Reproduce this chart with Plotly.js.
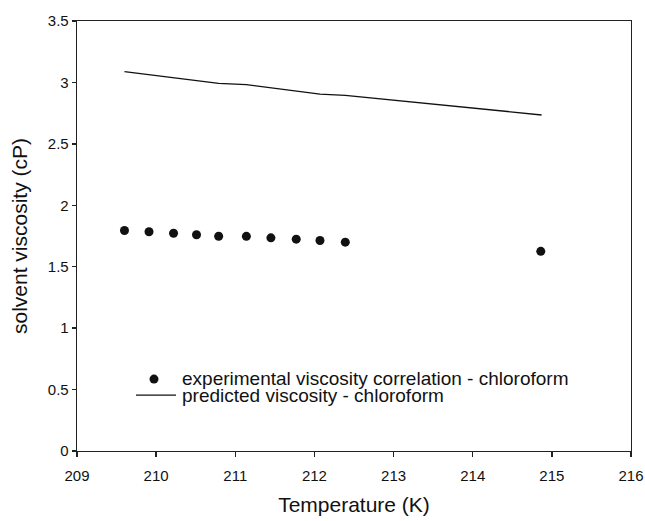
<!DOCTYPE html>
<html>
<head>
<meta charset="utf-8">
<script src="https://cdn.plot.ly/plotly-3.0.1.min.js"></script>
<style>html,body{margin:0;padding:0;background:#fff;}#chart{width:645px;height:521px;}</style>
</head>
<body>
<div id="chart"></div>
<script>
// Experimental viscosity correlation - chloroform
const expTemp = [209.60, 209.91, 210.22, 210.51, 210.79, 211.14, 211.45, 211.77, 212.07, 212.39, 214.86];
const expVisc = [1.795, 1.785, 1.772, 1.760, 1.748, 1.747, 1.735, 1.724, 1.713, 1.700, 1.625];
// Predicted viscosity - chloroform
const predTemp = [209.60, 209.91, 210.22, 210.51, 210.79, 211.14, 211.45, 211.77, 212.07, 212.39, 214.87];
const predVisc = [3.088, 3.064, 3.038, 3.012, 2.992, 2.982, 2.955, 2.928, 2.905, 2.895, 2.735];
const xTicks = [209, 210, 211, 212, 213, 214, 215, 216];
const yTicks = [0, 0.5, 1, 1.5, 2, 2.5, 3, 3.5];
const legendLabels = ["experimental viscosity correlation - chloroform", "predicted viscosity - chloroform"];

const font = "Liberation Sans, Arial, sans-serif";
const traces = [
  {x: predTemp, y: predVisc, mode: "lines", type: "scatter", name: legendLabels[1],
   line: {color: "#111", width: 1.4}, showlegend: false},
  {x: expTemp, y: expVisc, mode: "markers", type: "scatter", name: legendLabels[0],
   marker: {color: "#111", size: 9}, showlegend: false}
];
const W = 645, H = 521, L = 77, R = 14, T = 20.5, B = 70;
const pw = W - L - R, ph = H - T - B;
function px(x){return (x - L)/pw;}
function py(y){return (H - B - y)/ph;}
const layout = {
  width: W, height: H,
  margin: {l: L, r: R, t: T, b: B},
  paper_bgcolor: "#fff", plot_bgcolor: "#fff",
  font: {family: font, color: "#111"},
  xaxis: {range: [209, 216], tickvals: xTicks, ticktext: xTicks.map(String),
    showgrid: false, zeroline: false, showline: true, mirror: true, linecolor: "#222", linewidth: 1.3,
    ticks: "outside", ticklen: 5, tickwidth: 1.3, tickcolor: "#222",
    tickfont: {size: 15, family: font, color: "#111"}, ticklabelstandoff: 6,
    title: {text: "Temperature (K)", font: {size: 21, family: font, color: "#111"}, standoff: 14}},
  yaxis: {range: [0, 3.5], tickvals: yTicks, ticktext: yTicks.map(String),
    showgrid: false, zeroline: false, showline: true, mirror: true, linecolor: "#222", linewidth: 1.3,
    ticks: "outside", ticklen: 4, tickwidth: 1.3, tickcolor: "#222",
    tickfont: {size: 15, family: font, color: "#111"},
    title: {text: "solvent viscosity (cP)", font: {size: 21, family: font, color: "#111"}, standoff: 14}},
  showlegend: false,
  shapes: [
    {type: "circle", xref: "paper", yref: "paper", x0: px(149.5), x1: px(158.5), y0: py(374.5), y1: py(383.5),
     fillcolor: "#111", line: {width: 0}},
    {type: "line", xref: "paper", yref: "paper", x0: px(136), x1: px(176), y0: py(395), y1: py(395),
     line: {color: "#111", width: 1.3}}
  ],
  annotations: [
    {xref: "paper", yref: "paper", x: px(180), y: py(378), xanchor: "left", yanchor: "middle", showarrow: false,
     text: legendLabels[0], font: {size: 19, family: font, color: "#111"}},
    {xref: "paper", yref: "paper", x: px(180), y: py(395), xanchor: "left", yanchor: "middle", showarrow: false,
     text: legendLabels[1], font: {size: 19, family: font, color: "#111"}}
  ]
};
Plotly.newPlot("chart", traces, layout, {displayModeBar: false, staticPlot: true});
</script>
</body>
</html>
